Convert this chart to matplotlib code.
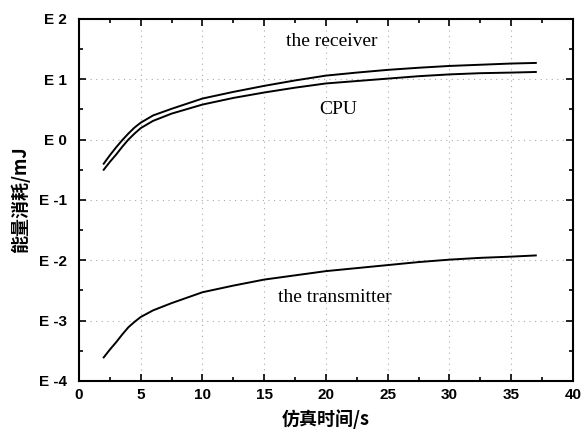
import matplotlib
matplotlib.use("Agg")
import matplotlib.pyplot as plt
from matplotlib.ticker import MultipleLocator, FuncFormatter

# simulation time (s)
time_s = [2, 2.5, 3, 3.5, 4, 4.5, 5, 6, 7.5, 10, 12.5, 15, 17.5, 20, 22.5, 25, 27.5, 30, 32.5, 35, 37]
# energy consumption, log10(mJ)
receiver_log = [-0.40, -0.26, -0.13, -0.01, 0.10, 0.20, 0.28, 0.40, 0.51, 0.68, 0.79, 0.89, 0.98,
                1.06, 1.11, 1.155, 1.19, 1.22, 1.24, 1.26, 1.27]
cpu_log = [-0.50, -0.37, -0.25, -0.12, 0.00, 0.10, 0.19, 0.31, 0.43, 0.58, 0.69, 0.78, 0.86,
           0.93, 0.97, 1.01, 1.05, 1.08, 1.10, 1.11, 1.12]
transmitter_log = [-3.61, -3.48, -3.36, -3.23, -3.11, -3.02, -2.94, -2.83, -2.71, -2.53, -2.42,
                   -2.32, -2.25, -2.18, -2.13, -2.08, -2.03, -1.99, -1.96, -1.94, -1.92]

x_ticks = [0, 5, 10, 15, 20, 25, 30, 35, 40]
y_ticks = [-4, -3, -2, -1, 0, 1, 2]

fig = plt.figure(figsize=(5.81, 4.29), dpi=100)
ax = fig.add_axes([0.136, 0.112, 0.850, 0.844])

for ys in (receiver_log, cpu_log, transmitter_log):
    ax.plot(time_s, ys, color="black", lw=1.4)

ax.set_xlim(0, 40)
ax.set_ylim(-4, 2)
ax.set_xticks(x_ticks)
ax.set_yticks(y_ticks)
ax.xaxis.set_minor_locator(MultipleLocator(2.5))
ax.yaxis.set_minor_locator(MultipleLocator(0.5))
ax.yaxis.set_major_formatter(FuncFormatter(lambda v, p: "E %d" % round(v)))
ax.grid(True, which="major", color="#aaaaaa", linestyle=(0, (1, 4)), lw=0.8)

ax.tick_params(which="both", direction="in", top=True, right=True, width=1.2)
ax.tick_params(which="major", length=5, labelsize=11)
ax.tick_params(axis="y", which="major", pad=9)
ax.tick_params(axis="x", which="major", pad=5)
ax.tick_params(which="minor", length=3)
for lab in ax.get_xticklabels() + ax.get_yticklabels():
    lab.set_fontfamily("Liberation Sans")
    lab.set_fontweight("bold")
for s in ax.spines.values():
    s.set_linewidth(1.5)

serif = {"family": "Liberation Serif", "size": 14}
ax.text(20.5, 1.63, "the receiver", ha="center", va="center", **serif)
ax.text(21.0, 0.50, "CPU", ha="center", va="center", **serif)
ax.text(20.7, -2.62, "the transmitter", ha="center", va="center", **serif)

cjk = ["Noto Sans CJK SC", "DejaVu Sans"]
ax.set_xlabel("仿真时间/s", family=cjk, fontweight="bold", fontsize=13, labelpad=5)
ax.set_ylabel("能量消耗/mJ", family=cjk, fontweight="bold", fontsize=13, labelpad=6)

fig.savefig("out.png", dpi=100)
